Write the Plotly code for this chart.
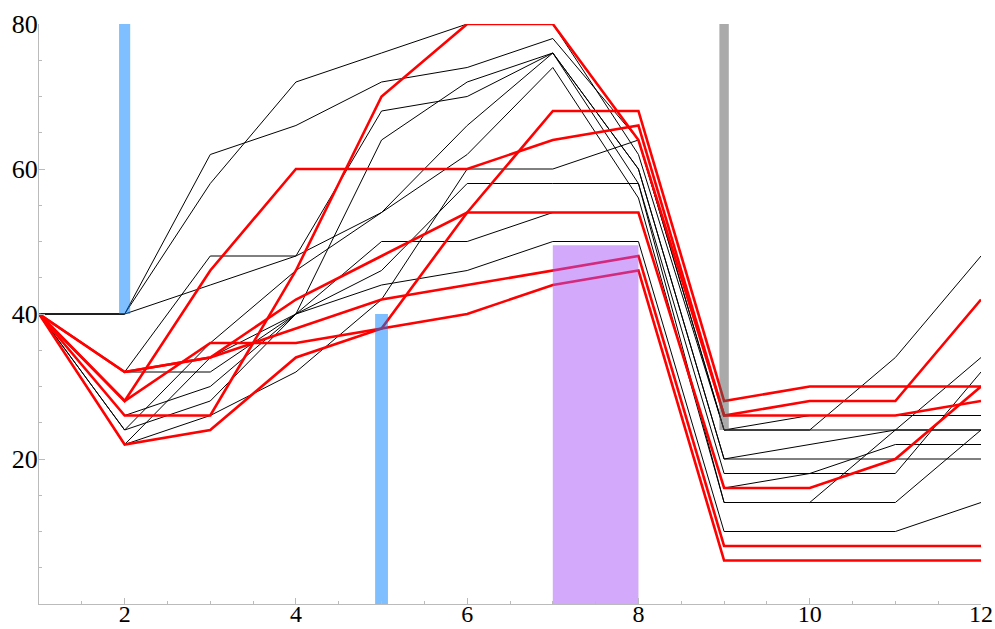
import plotly.graph_objects as go

x_vals = list(range(1, 13))

red_series = [
    [40, 26, 26, 46, 70, 80, 80, 64, 26, 26, 26, 28],
    [40, 28, 46, 60, 60, 60, 64, 66, 26, 28, 28, 42],
    [40, 28, 36, 36, 38, 54, 68, 68, 28, 30, 30, 30],
    [40, 32, 34, 42, 48, 54, 54, 54, 16, 16, 20, 30],
    [40, 32, 34, 38, 42, 44, 46, 48, 8, 8, 8, 8],
    [40, 22, 24, 34, 38, 40, 44, 46, 6, 6, 6, 6],
]

black_series = [
    [40, 40, 58, 72, 76, 80, 80, 62, 24, 24, 34, 48],
    [40, 40, 62, 66, 72, 74, 78, 64, 24, 26, 26, 26],
    [40, 40, 44, 48, 54, 66, 76, 60, 20, 22, 24, 24],
    [40, 32, 32, 40, 64, 72, 76, 60, 20, 20, 20, 20],
    [40, 32, 48, 48, 68, 70, 76, 58, 18, 18, 18, 32],
    [40, 26, 30, 40, 50, 50, 54, 54, 16, 18, 22, 22],
    [40, 24, 36, 46, 54, 62, 74, 56, 14, 14, 14, 24],
    [40, 24, 28, 40, 46, 58, 58, 58, 14, 14, 24, 34],
    [40, 22, 34, 40, 44, 46, 50, 50, 10, 10, 10, 14],
    [40, 22, 26, 32, 42, 60, 60, 64, 24, 24, 24, 24],
]

x_tick_vals = [2, 4, 6, 8, 10, 12]
x_tick_text = ["2", "4", "6", "8", "10", "12"]
y_tick_vals = [20, 40, 60, 80]

# highlight bars: centre, width, base, top, colour
bar_center = [2, 5, 7.5, 9]
bar_width = [0.13, 0.15, 1.0, 0.11]
bar_base = [40, 0, 0, 24]
bar_top = [80, 40, 49.5, 80]
bar_color = ["rgba(0,128,255,0.5)", "rgba(0,128,255,0.5)",
             "rgba(168,84,250,0.5)", "rgba(85,85,85,0.5)"]

fig = go.Figure()
for s in black_series:
    fig.add_trace(go.Scatter(x=x_vals, y=s, mode="lines",
                             line=dict(color="black", width=1), hoverinfo="skip"))
for s in red_series:
    fig.add_trace(go.Scatter(x=x_vals, y=s, mode="lines",
                             line=dict(color="red", width=2.6), hoverinfo="skip"))
for c, w, b, t, col in zip(bar_center, bar_width, bar_base, bar_top, bar_color):
    fig.add_trace(go.Scatter(x=[c - w / 2, c + w / 2, c + w / 2, c - w / 2, c - w / 2],
                             y=[b, b, t, t, b], mode="lines", fill="toself",
                             fillcolor=col, line=dict(width=0), hoverinfo="skip"))

yfont = dict(family="Liberation Serif", size=26, color="black")
xfont = dict(family="Liberation Serif", size=24, color="black")
fig.update_layout(
    width=995, height=629, showlegend=False,
    paper_bgcolor="white", plot_bgcolor="white",
    margin=dict(l=39, r=14, t=24, b=25, autoexpand=False),
    font=yfont,
)
fig.update_xaxes(range=[1, 12], showgrid=False, zeroline=False, automargin=False,
                 showline=True, linecolor="#bbbbbb", linewidth=1,
                 ticks="inside", ticklen=6, tickcolor="#bbbbbb",
                 tickvals=x_tick_vals, ticktext=x_tick_text,
                 minor=dict(ticks="inside", ticklen=3, tickcolor="#bbbbbb", dtick=0.5, tick0=1),
                 tickfont=xfont, ticklabelstandoff=-12)
fig.update_yaxes(range=[0, 80], showgrid=False, zeroline=False, automargin=False,
                 showline=True, linecolor="#bbbbbb", linewidth=1,
                 ticks="inside", ticklen=6, tickcolor="#bbbbbb",
                 tickvals=y_tick_vals,
                 minor=dict(ticks="inside", ticklen=3, tickcolor="#bbbbbb", dtick=5, tick0=0),
                 tickfont=yfont, ticklabelstandoff=-5)

fig.write_html("out.html", config={"displayModeBar": False},
               post_script="document.body.style.margin='0';document.body.style.padding='0';")
